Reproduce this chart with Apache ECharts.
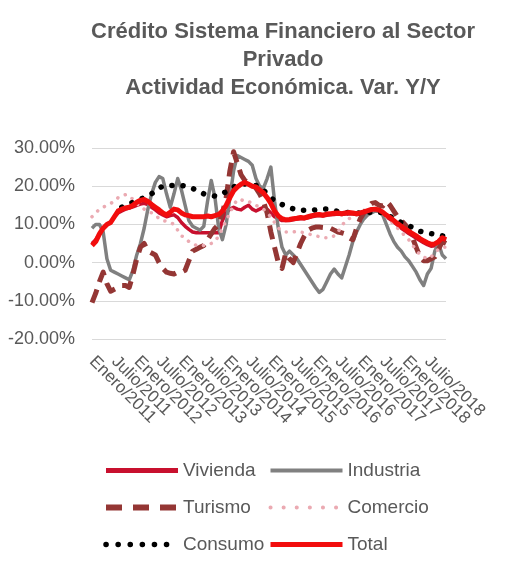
<!DOCTYPE html>
<html>
<head>
<meta charset="utf-8">
<script src="https://cdn.jsdelivr.net/npm/echarts@6/dist/echarts.min.js"></script>
<style>
  html, body { margin: 0; padding: 0; background: #ffffff; }
  #chart { width: 522px; height: 572px; }
</style>
</head>
<body>
<div id="chart"></div>
<script>
// Monthly year-on-year credit growth by economic activity, Jan 2011 - Dec 2018
const monthNames = ['Enero', 'Febrero', 'Marzo', 'Abril', 'Mayo', 'Junio',
  'Julio', 'Agosto', 'Septiembre', 'Octubre', 'Noviembre', 'Diciembre'];
const years = [2011, 2012, 2013, 2014, 2015, 2016, 2017, 2018];
const labelEvery = 6; // one axis label per half year

const yTicks = [-20, -10, 0, 10, 20, 30];

const vivienda = [
  5, 6, 7.5, 9, 10, 10.5, 12, 13, 13.5, 14, 14.3, 14.6,
  15, 15.3, 15.5, 15.2, 14.5, 13.8, 13, 12.5, 12, 12.3, 12.5, 11.8,
  10.5, 9.5, 8.7, 8, 7.8, 7.8, 7.8, 7.8, 7.8, 7.8, 7.8, 11,
  13, 14, 14.5, 14, 13.8, 14.5, 15, 14, 13.5, 14, 14.5, 14,
  13, 12, 11.5, 11, 11, 11, 11.2, 11.4, 11.5, 11.5, 11.7, 12,
  12.2, 12.3, 12.2, 12.4, 12.5, 12.6, 12.7, 12.6, 12.7, 12.8, 12.7, 12.6,
  12.7, 13, 13.3, 13.5, 13.6, 13.4, 12.8, 12, 11.3, 10.6, 9.8, 9,
  8.3, 7.6, 7, 6.4, 5.8, 5.2, 4.7, 4.3, 4.4, 5, 6, 5.8
];

const industria = [
  9, 10, 10, 8, 1, -2, -2.5, -3, -3.5, -4, -4.5, -2,
  2, 5, 9, 14, 18, 21, 22.5, 22, 18, 14.5, 18, 22,
  19, 15, 11, 9.5, 9, 8.5, 9.5, 16, 21.5, 17, 9, 6,
  10, 17, 24, 28, 27.5, 27, 26.5, 25.5, 22, 20, 19.5, 22,
  25, 16, 9, 4, 2, 3, 2, 1, -0.5, -2, -3.5, -5,
  -6.5, -7.8, -7, -5, -3, -1.7, -3, -4, -1, 2, 5.5, 8,
  10, 11.5, 12.5, 13, 13.5, 13.5, 12.5, 10, 7.5, 5.5, 4, 3,
  1.5, 0.5, -1, -2.5, -4.5, -6, -3, -1.5, 3, 5, 2, 1
];

const turismo = [
  -10.5, -8, -5, -2.5, -5.5, -7.5, -7, -6.5, -6, -6, -6.5, -3,
  1, 4, 5, 3, 2.5, 2, 0, -1.5, -2.5, -2.8, -3, -2.5,
  -2.5, -2, 0.5, 3, 3.5, 4, 4.5, 6, 7.5, 9, 10, 13,
  17, 24, 29, 26, 23, 21.5, 21, 20.5, 19.5, 18, 16, 13,
  8, 4, 0, -1.5, 2.5, 1, 0, 2.5, 5, 7, 8.5, 9,
  9.3, 9.3, 9.2, 9, 9, 8.5, 8, 7.8, 7.5, 6.5, 6, 9,
  11.5, 13, 14.5, 15.5, 15.7, 15, 14.8, 16, 15, 13.5, 12, 11,
  10, 8.5, 6.5, 4, 1.5, 0.5, 0.5, 1, 1.5, 3.5, 5.5, 5
];

const comercio = [
  12, 13, 14, 14.5, 15, 15.5, 16, 17, 17.5, 17.8, 17.5, 16.5,
  15.5, 14.5, 14, 13.5, 13, 12.5, 11.5, 11, 10.8, 10.5, 10, 8.5,
  7, 6.5, 5.5, 5, 4.5, 4.3, 4.5, 4.8, 5, 5.5, 7, 9,
  11, 13, 15, 16.5, 16.5, 16, 16, 15.5, 15, 14.5, 14, 13,
  12, 10.5, 9, 8.5, 8, 8, 8, 8.2, 8, 7.8, 7.5, 7.3,
  7, 6.8, 6.5, 6.5, 6.5, 7, 8, 9.5, 11, 11.5, 12, 12.5,
  13, 13.2, 13.5, 13.7, 13.5, 13.2, 13, 12, 11, 10, 9, 8,
  7, 6, 4.5, 3.5, 2, 1.5, 1, 1.5, 2.5, 3.5, 4, 4
];

const consumo = [
  null, null, null, null, null, null, null, null, 14.5, 15, 15.3, 15.8,
  16.3, 16.6, 17, 17.5, 18, 18.8, 19.5, 20, 20.1, 20.2, 20.2, 20.2,
  20.2, 20, 19.7, 19.4, 19, 18.5, 18, 17.8, 17.6, 17.4, 17.6, 18,
  18.6, 19.2, 19.8, 20.2, 20.5, 20.6, 20.5, 20.4, 20.2, 20, 19, 18,
  17, 16.2, 15.8, 15.2, 14.8, 14.4, 14.1, 13.9, 13.7, 13.7, 13.7, 13.7,
  13.8, 13.9, 14, 14, 13.8, 13.6, 13.4, 13.3, 13.2, 13.1, 13, 13,
  13, 13, 13.1, 13.2, 13.3, 13.2, 13, 12.6, 12.1, 11.5, 11, 10.5,
  10.1, 9.7, 9.2, 8.7, 8.2, 8, 7.8, 7.6, 7.4, 7.2, 7, 6.8
];

const total = [
  4.5, 5.5, 7.5, 9, 10, 10.5, 12, 13.5, 14, 14.3, 14.5, 15,
  15.8, 16.3, 16.5, 16, 15.2, 14.5, 13.8, 13, 12.5, 13.2, 14, 13.8,
  13, 12.5, 12.3, 12, 12, 12, 12, 12.2, 12, 12.3, 12.6, 13.5,
  15, 17, 18.8, 19.8, 20.5, 21, 20.5, 20, 19.8, 19, 18.3, 17,
  15.5, 13.5, 12.2, 11.5, 11.2, 11.3, 11.5, 11.6, 11.8, 11.7, 12, 12.3,
  12.5, 12.6, 12.4, 12.7, 12.8, 12.9, 13, 12.8, 13, 13.1, 13, 12.8,
  13, 13.3, 13.6, 13.9, 14, 13.8, 13.2, 12.4, 11.8, 11, 10.2, 9.5,
  8.8, 8.2, 7.6, 7, 6.3, 5.7, 5.2, 4.8, 4.9, 5.5, 6.5, 6
];

const categories = [];
years.forEach(function (y) {
  monthNames.forEach(function (m) { categories.push(m + '/' + y); });
});

const textGray = '#595959';
const fontFamily = '"Liberation Sans", Arial, sans-serif';

const colors = {
  vivienda: '#C8102E',
  industria: '#808080',
  turismo: '#943634',
  comercio: '#EBAAB2',
  consumo: '#000000',
  total: '#F20D0D'
};

const styles = {
  'Vivienda':  { color: colors.vivienda,  width: 3.5, type: 'solid' },
  'Industria': { color: colors.industria, width: 3.5, type: 'solid' },
  'Turismo':   { color: colors.turismo,   width: 5,   type: [14, 8] },
  'Comercio':  { color: colors.comercio,  width: 3.5, type: [0.1, 8], cap: 'round' },
  'Consumo':   { color: colors.consumo,   width: 5.5, type: [0.1, 11], cap: 'round' },
  'Total':     { color: colors.total,     width: 5,   type: 'solid' }
};

const legendStyles = {
  'Vivienda':  { width: 5, type: 'solid' },
  'Industria': { width: 4, type: 'solid' },
  'Turismo':   { width: 6, type: [16, 11] },
  'Comercio':  { width: 4, type: [0.1, 13], cap: 'round' },
  'Consumo':   { width: 5.5, type: [0.1, 12], cap: 'round' },
  'Total':     { width: 5, type: 'solid' }
};

function makeSeries(name, data) {
  const s = styles[name];
  return {
    name: name,
    type: 'line',
    data: data,
    symbol: 'none',
    connectNulls: false,
    animation: false,
    itemStyle: { color: s.color },
    lineStyle: {
      color: s.color,
      width: s.width,
      type: s.type,
      cap: s.cap || 'butt',
      join: 'round'
    }
  };
}

// legend keys show only the line, no marker in the middle
function legendItem(name) {
  const l = legendStyles[name];
  return {
    name: name,
    itemStyle: { opacity: 0 },
    lineStyle: { width: l.width, type: l.type, cap: l.cap || 'butt' }
  };
}

const legendCommon = {
  orient: 'vertical',
  itemWidth: 72,
  itemHeight: 18,
  itemGap: 18,
  selectedMode: false,
  textStyle: { color: textGray, fontSize: 19, fontFamily: fontFamily }
};

const chart = echarts.init(document.getElementById('chart'), null, { renderer: 'canvas' });

chart.setOption({
  backgroundColor: '#ffffff',
  animation: false,
  title: {
    text: 'Crédito Sistema Financiero al Sector\nPrivado\nActividad Económica. Var. Y/Y',
    left: 278,
    top: 13,
    textAlign: 'center',
    textStyle: {
      color: textGray,
      fontSize: 22,
      fontWeight: 'bold',
      lineHeight: 28,
      fontFamily: fontFamily
    }
  },
  legend: [
    Object.assign({}, legendCommon, {
      left: 98, top: 456,
      data: ['Vivienda', 'Turismo', 'Consumo'].map(legendItem)
    }),
    Object.assign({}, legendCommon, {
      left: 263, top: 456,
      data: ['Industria', 'Comercio', 'Total'].map(legendItem)
    })
  ],
  grid: { left: 92, right: 76, top: 148, bottom: 233, containLabel: false },
  xAxis: {
    type: 'category',
    data: categories,
    boundaryGap: false,
    axisLine: { show: false },
    axisTick: { show: false },
    splitLine: { show: false },
    axisLabel: {
      interval: 0,
      rotate: -45,
      margin: 20,
      hideOverlap: false,
      color: textGray,
      fontSize: 17,
      fontFamily: fontFamily,
      formatter: function (value, index) {
        return index % labelEvery === 0 ? value : '';
      }
    }
  },
  yAxis: {
    type: 'value',
    min: yTicks[0],
    max: yTicks[yTicks.length - 1],
    interval: 10,
    axisLine: { show: false },
    axisTick: { show: false },
    splitLine: { lineStyle: { color: '#D9D9D9', width: 1 } },
    axisLabel: {
      margin: 17,
      color: textGray,
      fontSize: 18,
      fontFamily: fontFamily,
      formatter: function (v) { return v.toFixed(2) + '%'; }
    }
  },
  series: [
    makeSeries('Vivienda', vivienda),
    makeSeries('Industria', industria),
    makeSeries('Turismo', turismo),
    makeSeries('Comercio', comercio),
    makeSeries('Consumo', consumo),
    makeSeries('Total', total)
  ]
});
</script>
</body>
</html>
